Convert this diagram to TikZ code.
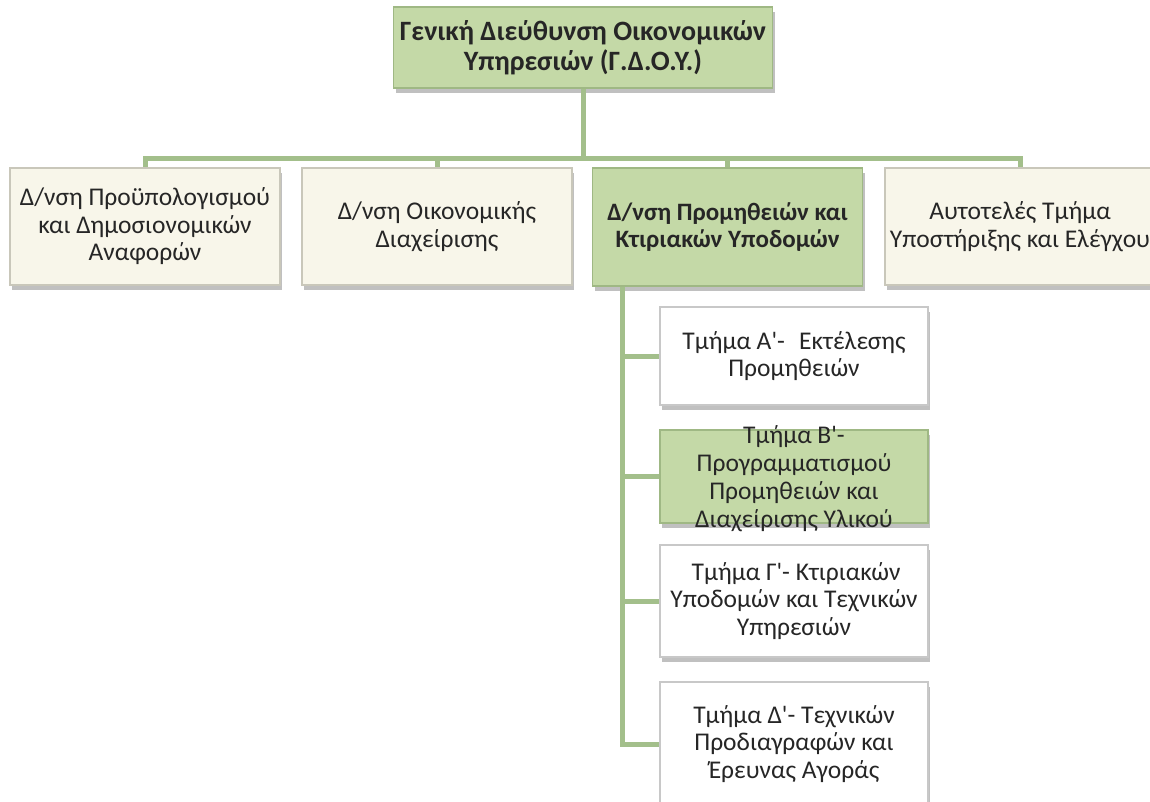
\documentclass[tikz,border=0pt]{standalone}
\usepackage{fontspec}
\setmainfont{Carlito}[Ligatures=TeXOff]
\usetikzlibrary{shadows,calc}
\definecolor{gfill}{HTML}{C4D9A7}
\definecolor{gedge}{HTML}{9FB884}
\definecolor{bfill}{HTML}{F8F6EA}
\definecolor{bedge}{HTML}{C9C7BA}
\definecolor{wedge}{HTML}{C8C8C8}
\definecolor{conn}{HTML}{A3BF8B}
\definecolor{txt}{HTML}{262626}
\tikzset{
  x=1pt,y=-1pt,
  box/.style={rectangle, draw, line width=1.6pt, align=center, inner sep=0pt,
    text=txt, font=\fontsize{25.5}{27.5}\selectfont,
    drop shadow={shadow xshift=2pt, shadow yshift=-5pt, fill=black!55, opacity=0.45}},
  topbox/.style={box, fill=gfill, draw=gedge, font=\bfseries\fontsize{28}{30}\selectfont,
    minimum width=379pt, minimum height=81pt},
  lvbeige/.style={box, fill=bfill, draw=bedge, minimum width=270pt, minimum height=117pt},
  lvgreen/.style={box, fill=gfill, draw=gedge, font=\bfseries\fontsize{25}{27}\selectfont,
    minimum width=270pt, minimum height=118pt},
  subwhite/.style={box, fill=white, draw=wedge, minimum width=268pt},
  subgreen/.style={box, fill=gfill, draw=gedge, minimum width=268pt},
  link/.style={draw=conn, line width=5pt}
}
\begin{document}
\begin{tikzpicture}
\useasboundingbox (0,0) rectangle (1150,801);
\clip (0,0) rectangle (1150,801);
\coordinate (bus) at (583,158);
\node[topbox] (top) at (583,47.5) {Γενική Διεύθυνση Οικονομικών\\Υπηρεσιών (Γ.Δ.Ο.Υ.)};
\node[lvbeige] (d1) at (145,226.5) {Δ/νση Προϋπολογισμού\\και Δημοσιονομικών\\Αναφορών};
\node[lvbeige] (d2) at (437,226.5) {Δ/νση Οικονομικής\\Διαχείρισης};
\node[lvgreen] (d3) at (727.5,227) {Δ/νση Προμηθειών και\\Κτιριακών Υποδομών};
\node[lvbeige] (d4) at (1020,226.5) {Αυτοτελές Τμήμα\\Υποστήριξης και Ελέγχου};
\node[subwhite, minimum height=98pt] (tA) at (794,356) {Τμήμα Α'-\,\, Εκτέλεσης\\Προμηθειών};
\node[subgreen, minimum height=93pt,
  label={[text=txt, font=\fontsize{25.5}{28}\selectfont, align=center, yshift=-2pt]center:Τμήμα Β'-\\Προγραμματισμού\\Προμηθειών και\\Διαχείρισης Υλικού}] (tB) at (794,476.5) {};
\node[subwhite, minimum height=112pt] (tG) at (794,601) {\,Τμήμα Γ'- Κτιριακών\\Υποδομών και Τεχνικών\\Υπηρεσιών};
\node[subwhite, minimum height=124pt] (tD) at (794,744) {Τμήμα Δ'- Τεχνικών\\Προδιαγραφών και\\Έρευνας Αγοράς};
\draw[link] (top.south) -- (bus);
\draw[link] (bus) -| (d1.north);
\draw[link] (bus) -| (d2.north);
\draw[link] (bus) -| (d3.north);
\draw[link] (bus) -| (d4.north);
\coordinate (sp) at (d3.south -| 622,0);
\draw[link] (sp) |- (tA.west);
\draw[link] (sp) |- (tB.west);
\draw[link] (sp) |- (tG.west);
\draw[link] (sp) |- (tD.west);
\end{tikzpicture}
\end{document}
